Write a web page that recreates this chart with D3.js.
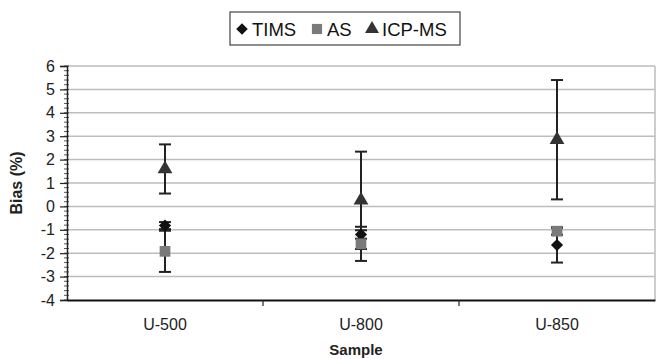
<!DOCTYPE html>
<html>
<head>
<meta charset="utf-8">
<script src="https://cdnjs.cloudflare.com/ajax/libs/d3/7.8.5/d3.min.js"></script>
<style>
  body { margin: 0; background: #fff; }
  text { font-family: "Liberation Sans", Arial, sans-serif; }
</style>
</head>
<body>
<div id="chart"></div>
<script>
const samples = ['U-500', 'U-800', 'U-850'];
const timsValues = [-0.82, -1.2, -1.65];
const timsErrors = [0.15, 0.18, 0.75];
const asValues = [-1.92, -1.6, -1.06];
const asErrors = [0.88, 0.73, 0.15];
const icpValues = [1.6, 0.26, 2.85];
const icpErrors = [1.05, 2.08, 2.55];
const yTicks = [6, 5, 4, 3, 2, 1, 0, -1, -2, -3, -4];

const series = [
  { name: 'TIMS', values: timsValues, errors: timsErrors, symbol: d3.symbolDiamond2, color: '#111', size: 95 },
  { name: 'AS', values: asValues, errors: asErrors, symbol: d3.symbolSquare, color: '#7a7a7a', size: 115 },
  { name: 'ICP-MS', values: icpValues, errors: icpErrors, symbol: d3.symbolTriangle, color: '#333', size: 95 }
];

const width = 656, height = 359;
const margin = { top: 66, right: 1, bottom: 59, left: 67 };
const innerW = width - margin.left - margin.right;
const innerH = height - margin.top - margin.bottom;

const svg = d3.select('#chart').append('svg')
  .attr('width', width)
  .attr('height', height);

const g = svg.append('g')
  .attr('transform', `translate(${margin.left},${margin.top})`);

const x = d3.scaleBand().domain(samples).range([0, innerW]);
const y = d3.scaleLinear().domain([-4, 6]).range([innerH, 0]);

// gridlines
g.selectAll('.grid')
  .data(yTicks.filter(d => d > -4))
  .enter().append('line')
  .attr('x1', 0).attr('x2', innerW)
  .attr('y1', d => y(d)).attr('y2', d => y(d))
  .attr('stroke', '#bdbdbd')
  .attr('stroke-width', 1.5);

// right border
g.append('line')
  .attr('x1', innerW).attr('x2', innerW)
  .attr('y1', 0).attr('y2', innerH)
  .attr('stroke', '#bdbdbd').attr('stroke-width', 1.5);

// y axis with minor ticks
const minor = d3.range(-20, 31).map(d => d / 5);
g.selectAll('.minor')
  .data(minor)
  .enter().append('line')
  .attr('x1', -3).attr('x2', 2)
  .attr('y1', d => y(d)).attr('y2', d => y(d))
  .attr('stroke', '#444').attr('stroke-width', 0.9);

const yAxis = g.append('g')
  .call(d3.axisLeft(y).tickValues(yTicks).tickSize(7).tickPadding(5).tickFormat(d => String(d)));
yAxis.selectAll('text').attr('font-size', 16).attr('fill', '#222')
  .attr('font-family', '"Liberation Sans", Arial, sans-serif');
yAxis.selectAll('line').attr('stroke', '#222').attr('stroke-width', 1.2);
yAxis.select('.domain').attr('stroke', '#222').attr('stroke-width', 1.5);

// x axis
const xAxis = g.append('g')
  .attr('transform', `translate(0,${innerH})`)
  .call(d3.axisBottom(x).tickSize(0).tickPadding(19));
xAxis.selectAll('text').attr('font-size', 16).attr('fill', '#222')
  .attr('font-family', '"Liberation Sans", Arial, sans-serif');
xAxis.select('.domain').attr('stroke', '#111').attr('stroke-width', 2);
g.selectAll('.xtick')
  .data(samples.slice(1))
  .enter().append('line')
  .attr('x1', d => x(d)).attr('x2', d => x(d))
  .attr('y1', innerH).attr('y2', innerH + 6)
  .attr('stroke', '#222').attr('stroke-width', 1.2);

// error bars and markers
series.forEach(s => {
  const grp = g.append('g');
  const cx = d => x(d) + x.bandwidth() / 2;
  const rows = samples.map((k, i) => ({ k, v: s.values[i], e: s.errors[i] }));
  grp.selectAll('.eb').data(rows).enter().append('line')
    .attr('x1', d => cx(d.k)).attr('x2', d => cx(d.k))
    .attr('y1', d => y(d.v + d.e)).attr('y2', d => y(d.v - d.e))
    .attr('stroke', '#222').attr('stroke-width', 2);
  [1, -1].forEach(sign => {
    grp.selectAll('.cap').data(rows).enter().append('line')
      .attr('x1', d => cx(d.k) - 6).attr('x2', d => cx(d.k) + 6)
      .attr('y1', d => y(d.v + sign * d.e)).attr('y2', d => y(d.v + sign * d.e))
      .attr('stroke', '#222').attr('stroke-width', 2);
  });
});
series.forEach(s => {
  const sym = d3.symbol().type(s.symbol).size(s.size);
  g.selectAll('.pt-' + s.name).data(samples).enter().append('path')
    .attr('d', sym)
    .attr('transform', (d, i) => `translate(${x(d) + x.bandwidth() / 2},${y(s.values[i])})`)
    .attr('fill', s.color);
});

// axis titles
svg.append('text')
  .attr('x', margin.left + innerW / 2 - 5)
  .attr('y', 355)
  .attr('text-anchor', 'middle')
  .attr('font-size', 15).attr('font-weight', 'bold').attr('fill', '#222')
  .text('Sample');
svg.append('text')
  .attr('transform', `translate(22,${margin.top + y(1)}) rotate(-90)`)
  .attr('text-anchor', 'middle')
  .attr('font-size', 16).attr('font-weight', 'bold').attr('fill', '#222')
  .text('Bias (%)');

// legend
const legend = svg.append('g').attr('transform', 'translate(230,12)');
legend.append('rect')
  .attr('width', 230).attr('height', 33)
  .attr('fill', '#fff').attr('stroke', '#444').attr('stroke-width', 1.2);
const legX = [12, 87, 142];
series.forEach((s, i) => {
  legend.append('path')
    .attr('d', d3.symbol().type(s.symbol).size(s.size * 0.9)())
    .attr('transform', `translate(${legX[i]},17)`)
    .attr('fill', s.color);
  legend.append('text')
    .attr('x', legX[i] + 10).attr('y', 23.5)
    .attr('font-size', 18.5).attr('fill', '#111')
    .text(s.name);
});
</script>
</body>
</html>
